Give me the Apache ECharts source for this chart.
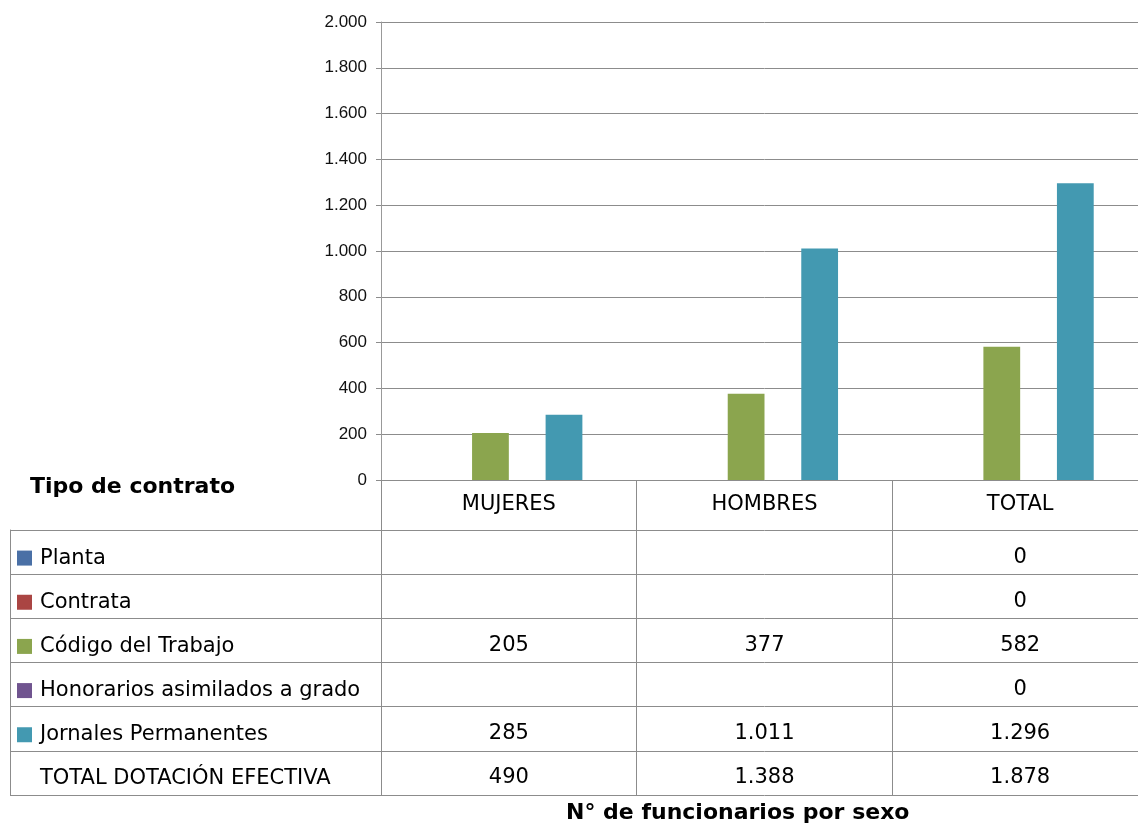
<!DOCTYPE html>
<html>
<head>
<meta charset="utf-8">
<script src="https://cdn.jsdelivr.net/npm/echarts@6/dist/echarts.min.js"></script>
<style>
  html, body { margin: 0; padding: 0; background: #fff; overflow: hidden; }
  /* el grafico original sigue unos pixeles mas alla del borde derecho */
  #chart { width: 1148px; height: 825px; }
</style>
</head>
<body>
<div id="chart"></div>
<script>
  // categorias (columnas) y filas de la tabla
  var categories = ['MUJERES', 'HOMBRES', 'TOTAL'];
  var rowNames = ['Planta', 'Contrata', 'Código del Trabajo', 'Honorarios asimilados a grado', 'Jornales Permanentes', 'TOTAL DOTACIÓN EFECTIVA'];
  var rowColors = ['#4a70a6', '#aa4543', '#8ba54e', '#70548f', '#4399b1', null];

  // valores por tipo de contrato
  var planta = [null, null, 0];
  var contrata = [null, null, 0];
  var codigoTrabajo = [205, 377, 582];
  var honorarios = [null, null, 0];
  var jornales = [285, 1011, 1296];
  var totalDotacion = [490, 1388, 1878];

  var yTicks = [0, 200, 400, 600, 800, 1000, 1200, 1400, 1600, 1800, 2000];

  var rows = [planta, contrata, codigoTrabajo, honorarios, jornales, totalDotacion];

  var tableFont = 'DejaVu Sans';
  var lineColor = '#8c8c8c';

  function fmt(v) {
    return String(v).replace(/\B(?=(\d{3})+(?!\d))/g, '.');
  }

  // celdas de la tabla
  var cells = [];
  rows.forEach(function (arr, r) {
    arr.forEach(function (v, c) {
      if (v !== null) cells.push([c, r, v]);
    });
  });

  // estilos rich para la columna de etiquetas
  var rich = { t: { fontFamily: tableFont, fontSize: 21, color: '#000', padding: [0, 0, 0, 8] } };
  rowColors.forEach(function (col, i) {
    rich['k' + i] = { width: 15, height: 15, backgroundColor: col || 'transparent' };
  });

  var barSeries = rows.map(function (arr, i) {
    return {
      name: rowNames[i],
      type: 'bar',
      xAxisIndex: 0,
      yAxisIndex: 0,
      barGap: '0%',
      barCategoryGap: '13.7%',
      data: arr,
      itemStyle: { color: rowColors[i] || '#fff', opacity: rowColors[i] ? 1 : 0 },
      silent: true
    };
  });

  var myChart = echarts.init(document.getElementById('chart'));
  myChart.setOption({
    animation: false,
    backgroundColor: '#fff',
    title: [
      {
        text: 'Tipo de contrato', left: 30, top: 476, padding: 0,
        textStyle: { fontFamily: tableFont, fontSize: 22, fontWeight: 'bold', color: '#000' }
      },
      {
        text: 'N° de funcionarios por sexo', left: 566, top: 802, padding: 0,
        textStyle: { fontFamily: tableFont, fontSize: 22, fontWeight: 'bold', color: '#000' }
      }
    ],
    grid: [
      { left: 381, right: 0, top: 22, bottom: 345 },
      { left: 10, width: 371, top: 530, bottom: 30 },
      { left: 381, right: 0, top: 530, bottom: 30 }
    ],
    xAxis: [
      {
        gridIndex: 0, type: 'category', data: categories,
        axisLine: { lineStyle: { color: lineColor } },
        axisTick: { show: true, length: 50, lineStyle: { color: lineColor } },
        axisLabel: { margin: 14, fontFamily: tableFont, fontSize: 21, color: '#000' }
      },
      {
        gridIndex: 1, type: 'category', data: [''],
        axisLine: { show: false }, axisTick: { show: false }, axisLabel: { show: false },
        splitLine: { show: true, lineStyle: { color: lineColor } }
      },
      {
        gridIndex: 2, type: 'category', data: categories,
        axisLine: { show: false }, axisTick: { show: false }, axisLabel: { show: false },
        splitLine: { show: true, interval: 0, lineStyle: { color: lineColor } }
      }
    ],
    yAxis: [
      {
        gridIndex: 0, type: 'value', min: yTicks[0], max: yTicks[yTicks.length - 1], interval: 200,
        axisLine: { show: true, lineStyle: { color: '#999' } },
        axisTick: { show: true, length: 5, lineStyle: { color: lineColor } },
        axisLabel: {
          margin: 14, fontFamily: 'Liberation Sans', fontSize: 17, color: '#111',
          formatter: function (v) { return fmt(v); }
        },
        splitLine: { lineStyle: { color: lineColor } }
      },
      {
        gridIndex: 1, type: 'category', data: rowNames, inverse: true,
        axisLine: { show: true, lineStyle: { color: lineColor } }, axisTick: { show: false },
        splitLine: { show: true, interval: 0, lineStyle: { color: lineColor } },
        axisLabel: {
          inside: true, margin: 7, interval: 0, align: 'left', padding: [12, 0, 0, 0],
          formatter: function (v, i) { return '{k' + i + '|}{t|' + v + '}'; },
          rich: rich
        }
      },
      {
        gridIndex: 2, type: 'category', data: rowNames, inverse: true,
        axisLine: { show: false }, axisTick: { show: false }, axisLabel: { show: false },
        splitLine: { show: true, interval: 0, lineStyle: { color: lineColor } }
      }
    ],
    series: barSeries.concat([
      {
        type: 'scatter',
        xAxisIndex: 2,
        yAxisIndex: 2,
        symbolSize: 0,
        silent: true,
        itemStyle: { opacity: 1 },
        data: cells,
        label: {
          show: true, position: 'inside', offset: [0, 5],
          fontFamily: tableFont, fontSize: 21, color: '#000',
          formatter: function (p) { return fmt(p.value[2]); }
        }
      }
    ])
  });
</script>
</body>
</html>
